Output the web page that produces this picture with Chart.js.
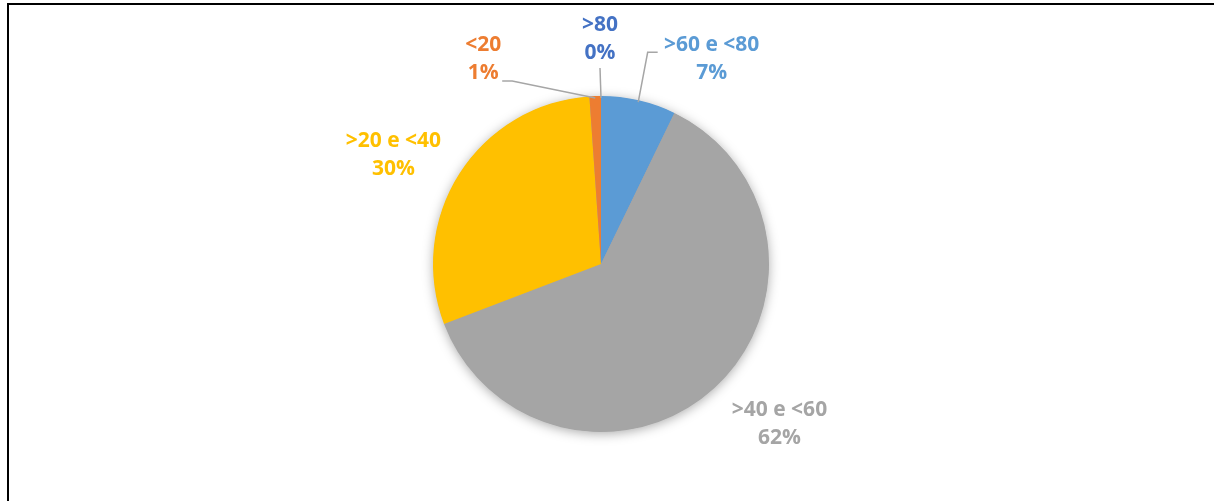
<!DOCTYPE html>
<html>
<head>
<meta charset="utf-8">
<script src="https://cdn.jsdelivr.net/npm/chart.js@4/dist/chart.umd.min.js"></script>
<style>
    body { margin: 0; background: #fff; }
    #wrap { position: relative; width: 1214px; height: 501px; overflow: hidden; }
    #frame { position: absolute; left: 7px; top: 3px; width: 1300px; height: 600px; border-left: 2px solid #000; border-top: 2px solid #000; }
    canvas { position: absolute; left: 0; top: 0; }
</style>
</head>
<body>
<div id="wrap">
    <div id="frame"></div>
    <canvas id="pieChart" width="1214" height="501"></canvas>
</div>
<script>
// data (clockwise from 12 o'clock)
const categories = ['>80', '>60 e <80', '>40 e <60', '>20 e <40', '<20'];
const shares = [0, 7.2, 62.0, 29.7, 1.1];
const colors = ['#4472C4', '#5B9BD5', '#A5A5A5', '#FFC000', '#ED7D31'];

// label placement: offset of label centre from the slice's outer mid point
// leader: [elbow dx, elbow dy, end dx] relative to label centre (null = no line)
const labelLayout = [
    { dx: -1, dy: -57, leader: [0, 29, 0] },
    { dx: 73, dy: -41, leader: [-64, -7, -54] },
    { dx: 65, dy: 36, leader: null },
    { dx: -66, dy: -19, leader: null },
    { dx: -112, dy: -37, leader: [29, 22, 19] },
];

const total = shares.reduce((a, b) => a + b, 0);

// soft shadow behind the whole pie
const pieShadow = {
    id: 'pieShadow',
    beforeDatasetsDraw(chart) {
        const arc = chart.getDatasetMeta(0).data[0];
        const ctx = chart.ctx;
        ctx.save();
        ctx.shadowColor = 'rgba(0,0,0,0.35)';
        ctx.shadowBlur = 12;
        ctx.shadowOffsetY = 2;
        ctx.fillStyle = '#A5A5A5';
        ctx.beginPath();
        ctx.arc(arc.x, arc.y, arc.outerRadius - 0.5, 0, Math.PI * 2);
        ctx.fill();
        ctx.restore();
    }
};

// Excel-like outside labels with leader lines
const outsideLabels = {
    id: 'outsideLabels',
    afterDatasetsDraw(chart) {
        const ctx = chart.ctx;
        const meta = chart.getDatasetMeta(0);
        meta.data.forEach((arc, i) => {
            const mid = (arc.startAngle + arc.endAngle) / 2;
            const ex = arc.x + Math.cos(mid) * arc.outerRadius;
            const ey = arc.y + Math.sin(mid) * arc.outerRadius;
            const lay = labelLayout[i];
            const lx = ex + lay.dx;
            const ly = ey + lay.dy;

            if (lay.leader) {
                const sx = arc.x + Math.cos(mid) * (arc.outerRadius - 2);
                const sy = arc.y + Math.sin(mid) * (arc.outerRadius - 2);
                ctx.save();
                ctx.strokeStyle = '#A6A6A6';
                ctx.lineWidth = 1.5;
                ctx.beginPath();
                ctx.moveTo(sx, sy);
                ctx.lineTo(lx + lay.leader[0], ly + lay.leader[1]);
                ctx.lineTo(lx + lay.leader[2], ly + lay.leader[1]);
                ctx.stroke();
                ctx.restore();
            }

            const pct = Math.round(shares[i] / total * 100) + '%';
            ctx.save();
            ctx.fillStyle = colors[i];
            ctx.font = 'bold 21px "Open Sans"';
            ctx.textAlign = 'center';
            ctx.textBaseline = 'middle';
            ctx.fillText(categories[i], lx, ly - 14);
            ctx.fillText(pct, lx, ly + 14);
            ctx.restore();
        });
    }
};

new Chart(document.getElementById('pieChart'), {
    type: 'pie',
    data: {
        labels: categories,
        datasets: [{
            data: shares,
            backgroundColor: colors,
            borderWidth: 0,
        }]
    },
    options: {
        responsive: false,
        animation: false,
        layout: { padding: { left: 261, right: 273, top: 96, bottom: 69 } },
        plugins: {
            legend: { display: false },
            tooltip: { enabled: false }
        }
    },
    plugins: [pieShadow, outsideLabels]
});
</script>
</body>
</html>
